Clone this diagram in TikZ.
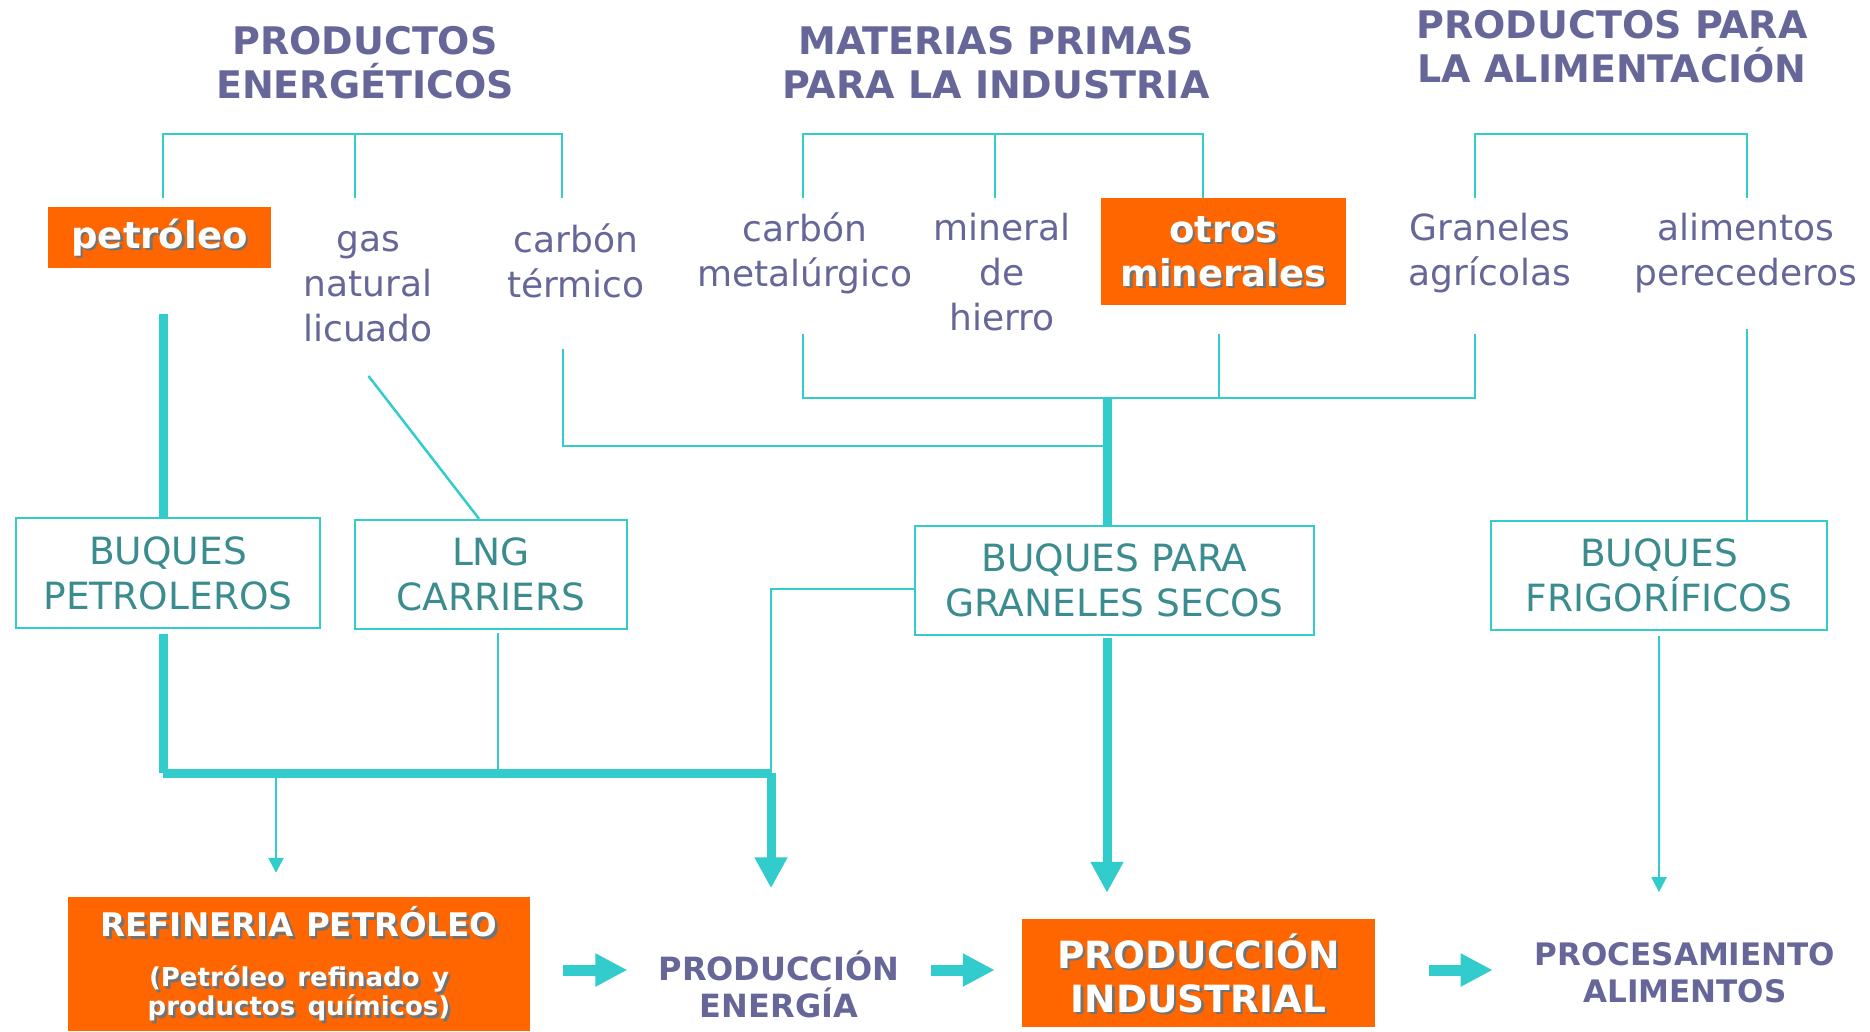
\documentclass[tikz,border=0pt]{standalone}
\usepackage{fontspec}
\setmainfont{DejaVu Sans}
\usetikzlibrary{arrows.meta}

\definecolor{cyn}{HTML}{33CCCC}
\definecolor{org}{HTML}{FF6600}
\definecolor{ttl}{HTML}{666699}
\definecolor{shp}{HTML}{3A8C8F}
\newcommand{\shd}[1]{\leavevmode\rlap{\kern2.5pt\raisebox{-2.5pt}[0pt][0pt]{\textcolor{black!55}{#1}}}#1}

\begin{document}
\begin{tikzpicture}[x=1pt,y=-1pt,
    group/.style={text=ttl,font=\fontsize{38}{44}\selectfont\bfseries,align=center,inner sep=0},
    cargo/.style={text=ttl,font=\fontsize{36}{45}\selectfont,align=center,inner sep=0},
    hot/.style={fill=org,text=white,font=\fontsize{37}{44}\selectfont\bfseries,align=center,inner sep=0},
    ship/.style={draw=cyn,line width=2.5pt,text=shp,font=\fontsize{37.5}{45}\selectfont,align=center,inner sep=0},
    sink/.style={text=ttl,font=\fontsize{32}{37}\selectfont\bfseries,align=center,inner sep=0},
    link/.style={cyn,line width=2.5pt},
    trunk/.style={cyn,line width=9pt},
    thinarrow/.style={-{Triangle[width=15pt,length=15pt]}},
    fatarrow/.style={-{Triangle[width=31pt,length=31pt]}},
    blk/.style={cyn,line width=11pt,-{Triangle[width=31pt,length=32pt]}}]
  \fill[white] (0,0) rectangle (1870,1031);
  \useasboundingbox (0,0) rectangle (1870,1031);

  % titulos
  \node[group] (tener) at (365,62.5) {PRODUCTOS\\ENERGÉTICOS};
  \node[group] (tmat) at (996,62.5) {MATERIAS PRIMAS\\PARA LA INDUSTRIA};
  \node[group] (tali) at (1612,47) {PRODUCTOS PARA\\LA ALIMENTACIÓN};

  % productos
  \node[hot,minimum width=223pt,minimum height=61pt] (petroleo) at (159.5,237.5) {\shd{petróleo}};
  \node[cargo] (gas) at (368,287) {gas\\natural\\licuado};
  \node[cargo] (ctermico) at (576,260.5) {carbón\\térmico};
  \node[cargo] (cmetal) at (805,253.5) {carbón\\metalúrgico};
  \node[cargo] (hierro) at (1002,272.5) {mineral\\de\\hierro};
  \node[hot,minimum width=245pt,minimum height=107pt] (otros) at (1223.5,251.5) {\shd{otros}\\\shd{minerales}};
  \node[cargo] (agri) at (1490,253) {Graneles\\agrícolas};
  \node[cargo] (pere) at (1746,253) {alimentos\\perecederos};

  % buques
  \node[ship,minimum width=304pt,minimum height=110pt] (bpet) at (168,573) {BUQUES\\PETROLEROS};
  \node[ship,minimum width=272pt,minimum height=109pt] (lng) at (491,574.5) {LNG\\CARRIERS};
  \node[ship,minimum width=399pt,minimum height=109pt] (bgs) at (1114.5,580.5) {BUQUES PARA\\GRANELES SECOS};
  \node[ship,minimum width=336pt,minimum height=109pt] (bfri) at (1659,575.5) {BUQUES\\FRIGORÍFICOS};

  % destinos
  \node[hot,minimum width=462pt,minimum height=134pt,text width=462pt] (refi) at (299,964)
    {{\fontsize{32.5}{37}\selectfont\shd{REFINERIA PETRÓLEO}\par}\vspace{21pt}%
     {\fontsize{26}{29}\selectfont\shd{(Petróleo refinado y}\\\shd{productos químicos)}\par}};
  \node[sink] (energia) at (779,984) {PRODUCCIÓN\\ENERGÍA};
  \node[hot,minimum width=353pt,minimum height=108pt,font=\fontsize{37.5}{44}\selectfont\bfseries] (pind) at (1198.5,973) {\shd{PRODUCCIÓN}\\\shd{INDUSTRIAL}};
  \node[sink,font=\fontsize{31}{37}\selectfont\bfseries] (proc) at (1685,972.5) {PROCESAMIENTO\\ALIMENTOS};

  % puntos de las lineas
  \coordinate (e1) at (163,198); \coordinate (e2) at (355,198); \coordinate (e3) at (562,198);
  \coordinate (m1) at (803,198); \coordinate (m2) at (995,198); \coordinate (m3) at (1203,198);
  \coordinate (a1) at (1475,198); \coordinate (a2) at (1747,198);
  \coordinate (s1) at (163,314); \coordinate (s2) at (368.5,376); \coordinate (s3) at (563,349);
  \coordinate (s4) at (803,334); \coordinate (s5) at (1219,334); \coordinate (s6) at (1475,334);
  \coordinate (s7) at (1747,329);
  \coordinate (k1) at (1107,398); \coordinate (k2) at (1107,446);
  \coordinate (k3) at (163,773); \coordinate (k4) at (771,773); \coordinate (k5) at (276,773);
  \coordinate (k6) at (498,773); \coordinate (k7) at (771,589);
  \coordinate (row) at (0,970);

  % corchetes
  \draw[link] (e1) -- ++(0,-64) -| (e3) (e2) -- ++(0,-64);
  \draw[link] (m1) -- ++(0,-64) -| (m3) (m2) -- ++(0,-64);
  \draw[link] (a1) -- ++(0,-64) -| (a2);

  % hacia los buques
  \draw[trunk] (s1) -- (s1 |- bpet.north);
  \draw[link] (s2) -- ([xshift=-12pt]lng.north);
  \draw[link] (s3) |- (k2);
  \draw[link] (s4) |- (k1) -| (s6) (s5) -- (s5 |- k1);
  \draw[trunk] (k1) -- (k1 |- bgs.north);
  \draw[link] (s7) -- (s7 |- bfri.north);

  % hacia los destinos
  \draw[trunk,shorten <=5pt] (s1 |- bpet.south) -- (k3);
  \draw[trunk] (k3) -- (k4);
  \draw[link,thinarrow,shorten >=24pt] (k5) -- (k5 |- refi.north);
  \draw[trunk,fatarrow,shorten >=62pt] (k4) -- (k4 |- energia.north);
  \draw[link,shorten <=3pt] (lng.south -| k6) -- (k6);
  \draw[link] (bgs.west |- k7) -- (k7) -- (k4);
  \draw[trunk,fatarrow,shorten <=2pt,shorten >=26pt] (k1 |- bgs.south) -- (k1 |- pind.north);
  \draw[link,thinarrow,shorten <=5pt,shorten >=50pt] (bfri.south) -- (bfri.south |- proc.north);

  % flechas de abajo
  \draw[blk,shorten <=33pt,shorten >=31pt] (refi.east |- row) -- (energia.west |- row);
  \draw[blk,shorten <=31pt,shorten >=27pt] (energia.east |- row) -- (pind.west |- row);
  \draw[blk,shorten <=54pt,shorten >=42pt] (pind.east |- row) -- (proc.west |- row);
\end{tikzpicture}
\end{document}
